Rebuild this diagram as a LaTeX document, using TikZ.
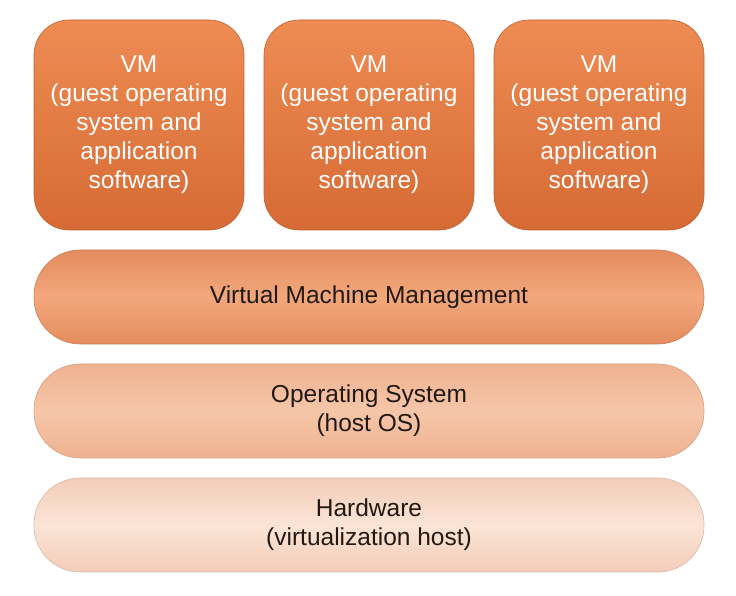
\documentclass[tikz,border=0pt]{standalone}
\usepackage{fontspec}
\setmainfont{Liberation Sans}
\usepackage{tikz}

\definecolor{vmtop}{RGB}{238,140,84}
\definecolor{vmbot}{RGB}{214,106,52}
\definecolor{vmedge}{RGB}{190,95,50}
\definecolor{mgmtmid}{RGB}{242,168,124}
\definecolor{mgmtend}{RGB}{228,140,95}
\definecolor{osmid}{RGB}{246,198,168}
\definecolor{osend}{RGB}{238,178,145}
\definecolor{hwmid}{RGB}{251,228,214}
\definecolor{hwend}{RGB}{243,205,185}
\definecolor{txt}{RGB}{35,25,20}

\tikzset{
	vmbox/.style={draw=vmedge,line width=.6pt,rounded corners=35pt,minimum width=210pt,minimum height=210pt,
		top color=vmtop,bottom color=vmbot,text=white,align=center,inner sep=0pt,
		font=\fontsize{24.5}{29}\selectfont},
	layer/.style={line width=.6pt,rounded corners=46pt,minimum width=670pt,minimum height=94pt,
		text=txt,align=center,inner sep=0pt,font=\fontsize{24.5}{29}\selectfont}
}

\begin{document}
\begin{tikzpicture}[x=1pt,y=1pt]
						\useasboundingbox (0,0) rectangle (736,596);
						%\draw[gray] (0,0) grid[step=50] (736,596);
						\node[vmbox] (vma) at (139,471) {VM\\(guest operating\\system and\\application\\software)};
						\node[vmbox] (vmb) at (369,471) {VM\\(guest operating\\system and\\application\\software)};
						\node[vmbox] (vmc) at (599,471) {VM\\(guest operating\\system and\\application\\software)};
						% layers
						\node[layer,draw=mgmtend!90!black,top color=mgmtend,bottom color=mgmtend,middle color=mgmtmid] (mgmt) at (369,299) {Virtual Machine Management};
						\node[layer,draw=osend!90!black,top color=osend,bottom color=osend,middle color=osmid] (hostos) at (369,185) {Operating System\\(host OS)};
						\node[layer,draw=hwend!90!black,top color=hwend,bottom color=hwend,middle color=hwmid] (hw) at (369,71) {Hardware\\(virtualization host)};
						\end{tikzpicture}
\end{document}
